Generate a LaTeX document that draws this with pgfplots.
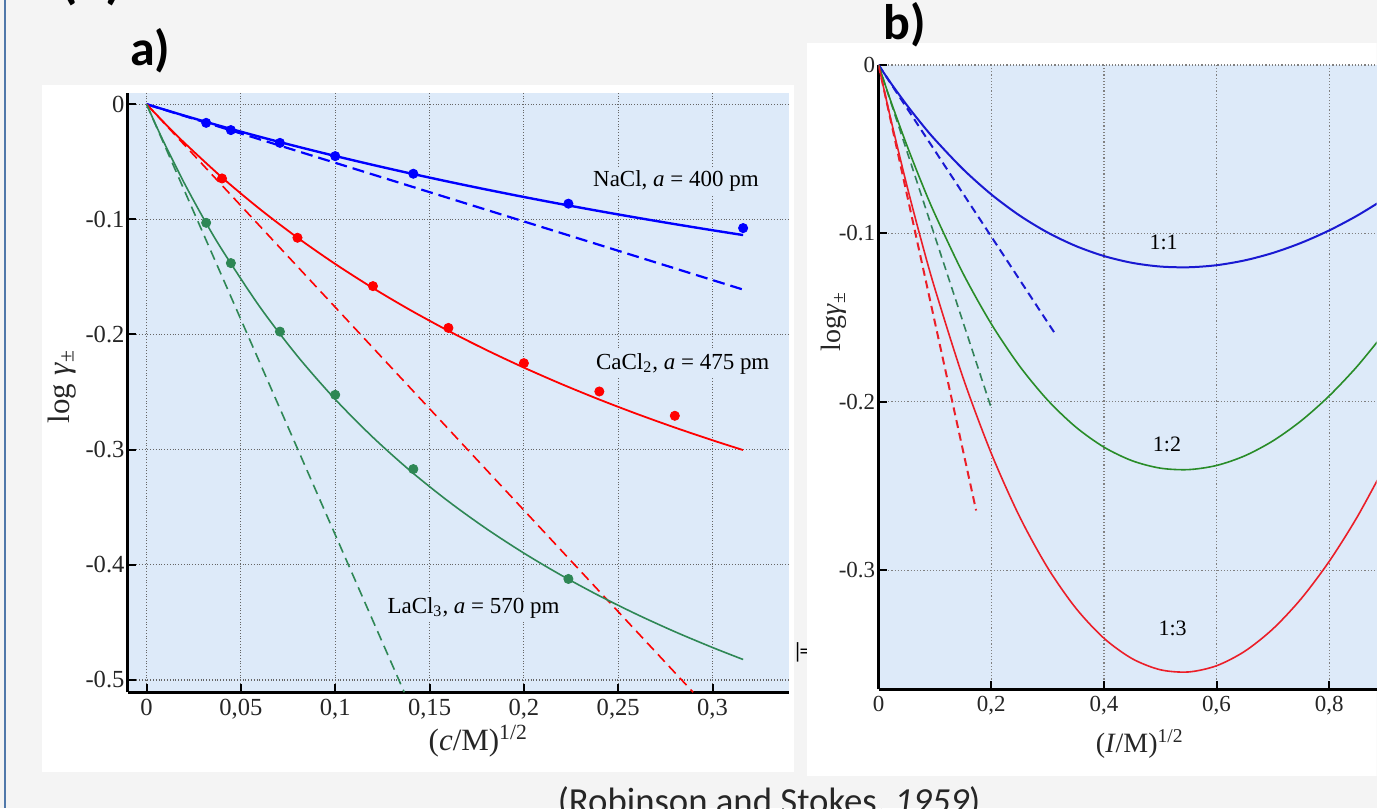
\documentclass[border=0pt]{standalone}
\usepackage{pgfplots}
\pgfplotsset{compat=1.18}
\usepackage{fontspec}
\setmainfont{Liberation Serif}
\newfontfamily\calibri{Carlito}

\definecolor{slidegray}{RGB}{244,244,244}
\definecolor{plotbg}{RGB}{221,234,249}
\definecolor{slideframe}{RGB}{80,120,170}
\definecolor{nacl}{RGB}{0,0,255}
\definecolor{cacl}{RGB}{255,0,0}
\definecolor{lacl}{RGB}{46,135,85}
\definecolor{bblue}{RGB}{25,25,210}
\definecolor{bgreen}{RGB}{40,140,40}
\definecolor{bgreend}{RGB}{50,130,90}
\definecolor{bred}{RGB}{235,30,40}

\pgfplotsset{
  slide axis/.style={
    scale only axis,
    axis background/.style={fill=plotbg},
    separate axis lines,
    axis x line*=bottom, axis y line*=left,
    axis line style={line width=1.5pt, black, -},
    every outer x axis line/.append style={-},
    every outer y axis line/.append style={-},
    tick align=inside, major tick length=4pt,
    major tick style={line width=1pt, black},
    grid=major,
    grid style={densely dotted, black!60, line width=0.6pt},
    yticklabel style={inner xsep=1.5pt},
    tick label style={text=black!85},
    label style={text=black!85},
  }
}

\begin{document}
\begin{tikzpicture}
\begin{scope}[x=0.5pt, y=-0.5pt]
  \useasboundingbox (0,0) rectangle (1378,809);
  \fill[slidegray] (0,0) rectangle (1378,809);
  \draw[slideframe, line width=1.2pt] (5,0) -- (5,809);
  \begin{scope}
    \clip (0,0) rectangle (1378,809);
    % cut-off heading above the panels
    \node[anchor=base west, inner sep=0pt, font=\calibri\bfseries\fontsize{28}{30}\selectfont] at (60,-3) {(a)};
    % panel backgrounds
    \fill[white] (42,85) rectangle (795,773);
    \node[anchor=west, inner sep=0pt, font=\calibri\fontsize{11}{13}\selectfont] at (793,653) {|\kern-1.5pt=4};
    \fill[white] (808,43) rectangle (1378,777);
    \node[anchor=base west, inner sep=0pt, font=\calibri\bfseries\fontsize{25}{27}\selectfont] at (130,66) {a)};
    \node[anchor=base west, inner sep=0pt, font=\calibri\bfseries\fontsize{25}{27}\selectfont] at (884,40) {b)};
    % source line, cut at the bottom edge
    \node[anchor=base west, inner sep=0pt, text=black!85, font=\calibri\fontsize{18.4}{20}\selectfont] at (558,814) {(Robinson and Stokes, \textit{1959})};
  \end{scope}
\end{scope}

% ---------- a) log gamma vs sqrt(c) ----------
\begin{axis}[slide axis,
  at={(64pt,-346.5pt)}, anchor=south west,
  width=331pt, height=300pt,
  xmin=-0.0099, xmax=0.3406, ymin=-0.5107, ymax=0.0098,
  xtick={0,0.05,0.1,0.15,0.2,0.25,0.3},
  xticklabels={0,{0,05},{0,1},{0,15},{0,2},{0,25},{0,3}},
  ytick={-0.5,-0.4,-0.3,-0.2,-0.1,0},
  yticklabels={-0.5,-0.4,-0.3,-0.2,-0.1,0},
  tick label style={font=\fontsize{12.3}{14}\selectfont},
  label style={font=\fontsize{15.5}{17}\selectfont},
  xlabel={(\textit{c}/M)\textsuperscript{1/2}},
  ylabel={log\ \textit{γ}\textsubscript{±}},
  xlabel style={at={(axis description cs:0.530,-0.0817)}, anchor=center},
  ylabel style={at={(axis description cs:-0.0997,0.51)}, anchor=center},
]
% limiting law (dashed)
\addplot[nacl, line width=1.1pt, dash pattern=on 6pt off 3pt] coordinates {(0,0) (0.3162,-0.161)};
\addplot[cacl, line width=0.8pt, dash pattern=on 5pt off 3pt] coordinates {(0,0) (0.2897,-0.5107)};
\addplot[lacl, line width=0.8pt, dash pattern=on 5pt off 3pt] coordinates {(0,0) (0.1366,-0.5107)};
% extended law (solid)
\addplot[nacl, line width=1.2pt, smooth] coordinates {(0,0) (0.02,-0.00992) (0.04,-0.01934) (0.06,-0.02831) (0.08,-0.03684) (0.1,-0.04498) (0.12,-0.05275) (0.14,-0.06017) (0.16,-0.06727) (0.18,-0.07407) (0.2,-0.08059) (0.22,-0.08684) (0.24,-0.09284) (0.26,-0.0986) (0.28,-0.10415) (0.3,-0.10948) (0.3162,-0.11365)};
\addplot[cacl, line width=0.9pt, smooth] coordinates {(0,0) (0.01,-0.01717) (0.02,-0.03345) (0.04,-0.06363) (0.06,-0.0910) (0.08,-0.11593) (0.1,-0.13874) (0.12,-0.15969) (0.14,-0.17899) (0.16,-0.19683) (0.18,-0.21337) (0.2,-0.22875) (0.22,-0.24309) (0.24,-0.25649) (0.26,-0.26903) (0.28,-0.2808) (0.3,-0.29187) (0.3162,-0.30037)};
\addplot[lacl, line width=0.8pt, smooth] coordinates {(0,0) (0.005,-0.01828) (0.01,-0.03576) (0.02,-0.06851) (0.03,-0.09861) (0.04,-0.12638) (0.06,-0.17592) (0.08,-0.2188) (0.1,-0.25629) (0.12,-0.28933) (0.14,-0.31868) (0.16,-0.34492) (0.18,-0.36853) (0.2,-0.38987) (0.22,-0.40926) (0.24,-0.42696) (0.26,-0.44317) (0.28,-0.45809) (0.3,-0.47184) (0.3162,-0.48224)};
% measured values
\addplot[only marks, mark=*, mark size=2.3pt, nacl] coordinates {(0.0316,-0.0162) (0.0447,-0.0225) (0.0707,-0.0336) (0.1,-0.0451) (0.1414,-0.0604) (0.2236,-0.0864) (0.3162,-0.1076)};
\addplot[only marks, mark=*, mark size=2.3pt, cacl] coordinates {(0.04,-0.0645) (0.08,-0.116) (0.12,-0.158) (0.16,-0.1943) (0.2,-0.2249) (0.24,-0.2495) (0.28,-0.2706)};
\addplot[only marks, mark=*, mark size=2.3pt, lacl] coordinates {(0.0316,-0.103) (0.0447,-0.138) (0.0707,-0.1975) (0.1,-0.2524) (0.1414,-0.3169) (0.2236,-0.4123)};
\node[fill=plotbg, inner sep=1.5pt, font=\fontsize{11.5}{13}\selectfont] at (axis cs:0.2806,-0.0671) {NaCl, \textit{a} = 400 pm};
\node[fill=plotbg, inner sep=1.5pt, font=\fontsize{11.5}{13}\selectfont] at (axis cs:0.2842,-0.2255) {CaCl\textsubscript{2}, \textit{a} = 475 pm};
\node[fill=plotbg, inner sep=1.5pt, font=\fontsize{11.5}{13}\selectfont] at (axis cs:0.1733,-0.4372) {LaCl\textsubscript{3}, \textit{a} = 570 pm};
\end{axis}

% ---------- b) log gamma vs sqrt(I) ----------
\begin{axis}[slide axis,
  at={(439.75pt,-345pt)}, anchor=south west,
  width=249.25pt, height=312.5pt,
  xmin=0, xmax=0.8839, ymin=-0.3706, ymax=0,
  xtick={0,0.2,0.4,0.6,0.8},
  xticklabels={0,{0,2},{0,4},{0,6},{0,8}},
  ytick={-0.3,-0.2,-0.1,0},
  yticklabels={-0.3,-0.2,-0.1,0},
  grid style={densely dotted, black!50, line width=0.6pt},
  tick label style={font=\fontsize{11.5}{13}\selectfont},
  label style={font=\fontsize{14}{16}\selectfont},
  xlabel={(\textit{I}/M)\textsuperscript{1/2}},
  ylabel={log\textit{γ}\textsubscript{±}},
  xlabel style={at={(axis description cs:0.5246,-0.088)}, anchor=center},
  ylabel style={at={(axis description cs:-0.0893,0.589)}, anchor=center},
]
\addplot[bblue, line width=1pt, dash pattern=on 4pt off 2.5pt] coordinates {(0,0) (0.3162,-0.161)};
\addplot[bgreend, line width=0.8pt, dash pattern=on 4pt off 2.5pt] coordinates {(0,0) (0.2,-0.2036)};
\addplot[bred, line width=1pt, dash pattern=on 4pt off 2.5pt] coordinates {(0,0) (0.1732,-0.2645)};
\addplot[bblue, line width=1pt, smooth] coordinates {(0,0) (0.0125,-0.00625) (0.025,-0.01229) (0.05,-0.02374) (0.075,-0.03439) (0.1,-0.04427) (0.15,-0.06189) (0.2,-0.07683) (0.25,-0.0893) (0.3,-0.09946) (0.35,-0.10746) (0.4,-0.11343) (0.45,-0.11747) (0.5,-0.11967) (0.55,-0.12011) (0.6,-0.11888) (0.65,-0.11602) (0.7,-0.11159) (0.75,-0.10564) (0.8,-0.09822) (0.85,-0.08937) (0.9,-0.07911)};
\addplot[bgreen, line width=0.8pt, smooth] coordinates {(0,0) (0.0125,-0.0125) (0.025,-0.02458) (0.05,-0.04748) (0.075,-0.06878) (0.1,-0.08854) (0.15,-0.12378) (0.2,-0.15366) (0.25,-0.1786) (0.3,-0.19892) (0.35,-0.21492) (0.4,-0.22686) (0.45,-0.23494) (0.5,-0.23934) (0.55,-0.24022) (0.6,-0.23776) (0.65,-0.23204) (0.7,-0.22318) (0.75,-0.21128) (0.8,-0.19644) (0.85,-0.17874) (0.9,-0.15822)};
\addplot[bred, line width=0.8pt, smooth] coordinates {(0,0) (0.0125,-0.01876) (0.025,-0.03687) (0.05,-0.07122) (0.075,-0.10317) (0.1,-0.13281) (0.15,-0.18567) (0.2,-0.23049) (0.25,-0.2679) (0.3,-0.29838) (0.35,-0.32238) (0.4,-0.34029) (0.45,-0.35241) (0.5,-0.35901) (0.55,-0.36033) (0.6,-0.35664) (0.65,-0.34806) (0.7,-0.33477) (0.75,-0.31692) (0.8,-0.29466) (0.85,-0.26811) (0.9,-0.23733)};
\node[font=\fontsize{11}{13}\selectfont] at (axis cs:0.506,-0.1054) {1:1};
\node[font=\fontsize{11}{13}\selectfont] at (axis cs:0.512,-0.225) {1:2};
\node[font=\fontsize{11}{13}\selectfont] at (axis cs:0.522,-0.3345) {1:3};
\end{axis}
\end{tikzpicture}
\end{document}
